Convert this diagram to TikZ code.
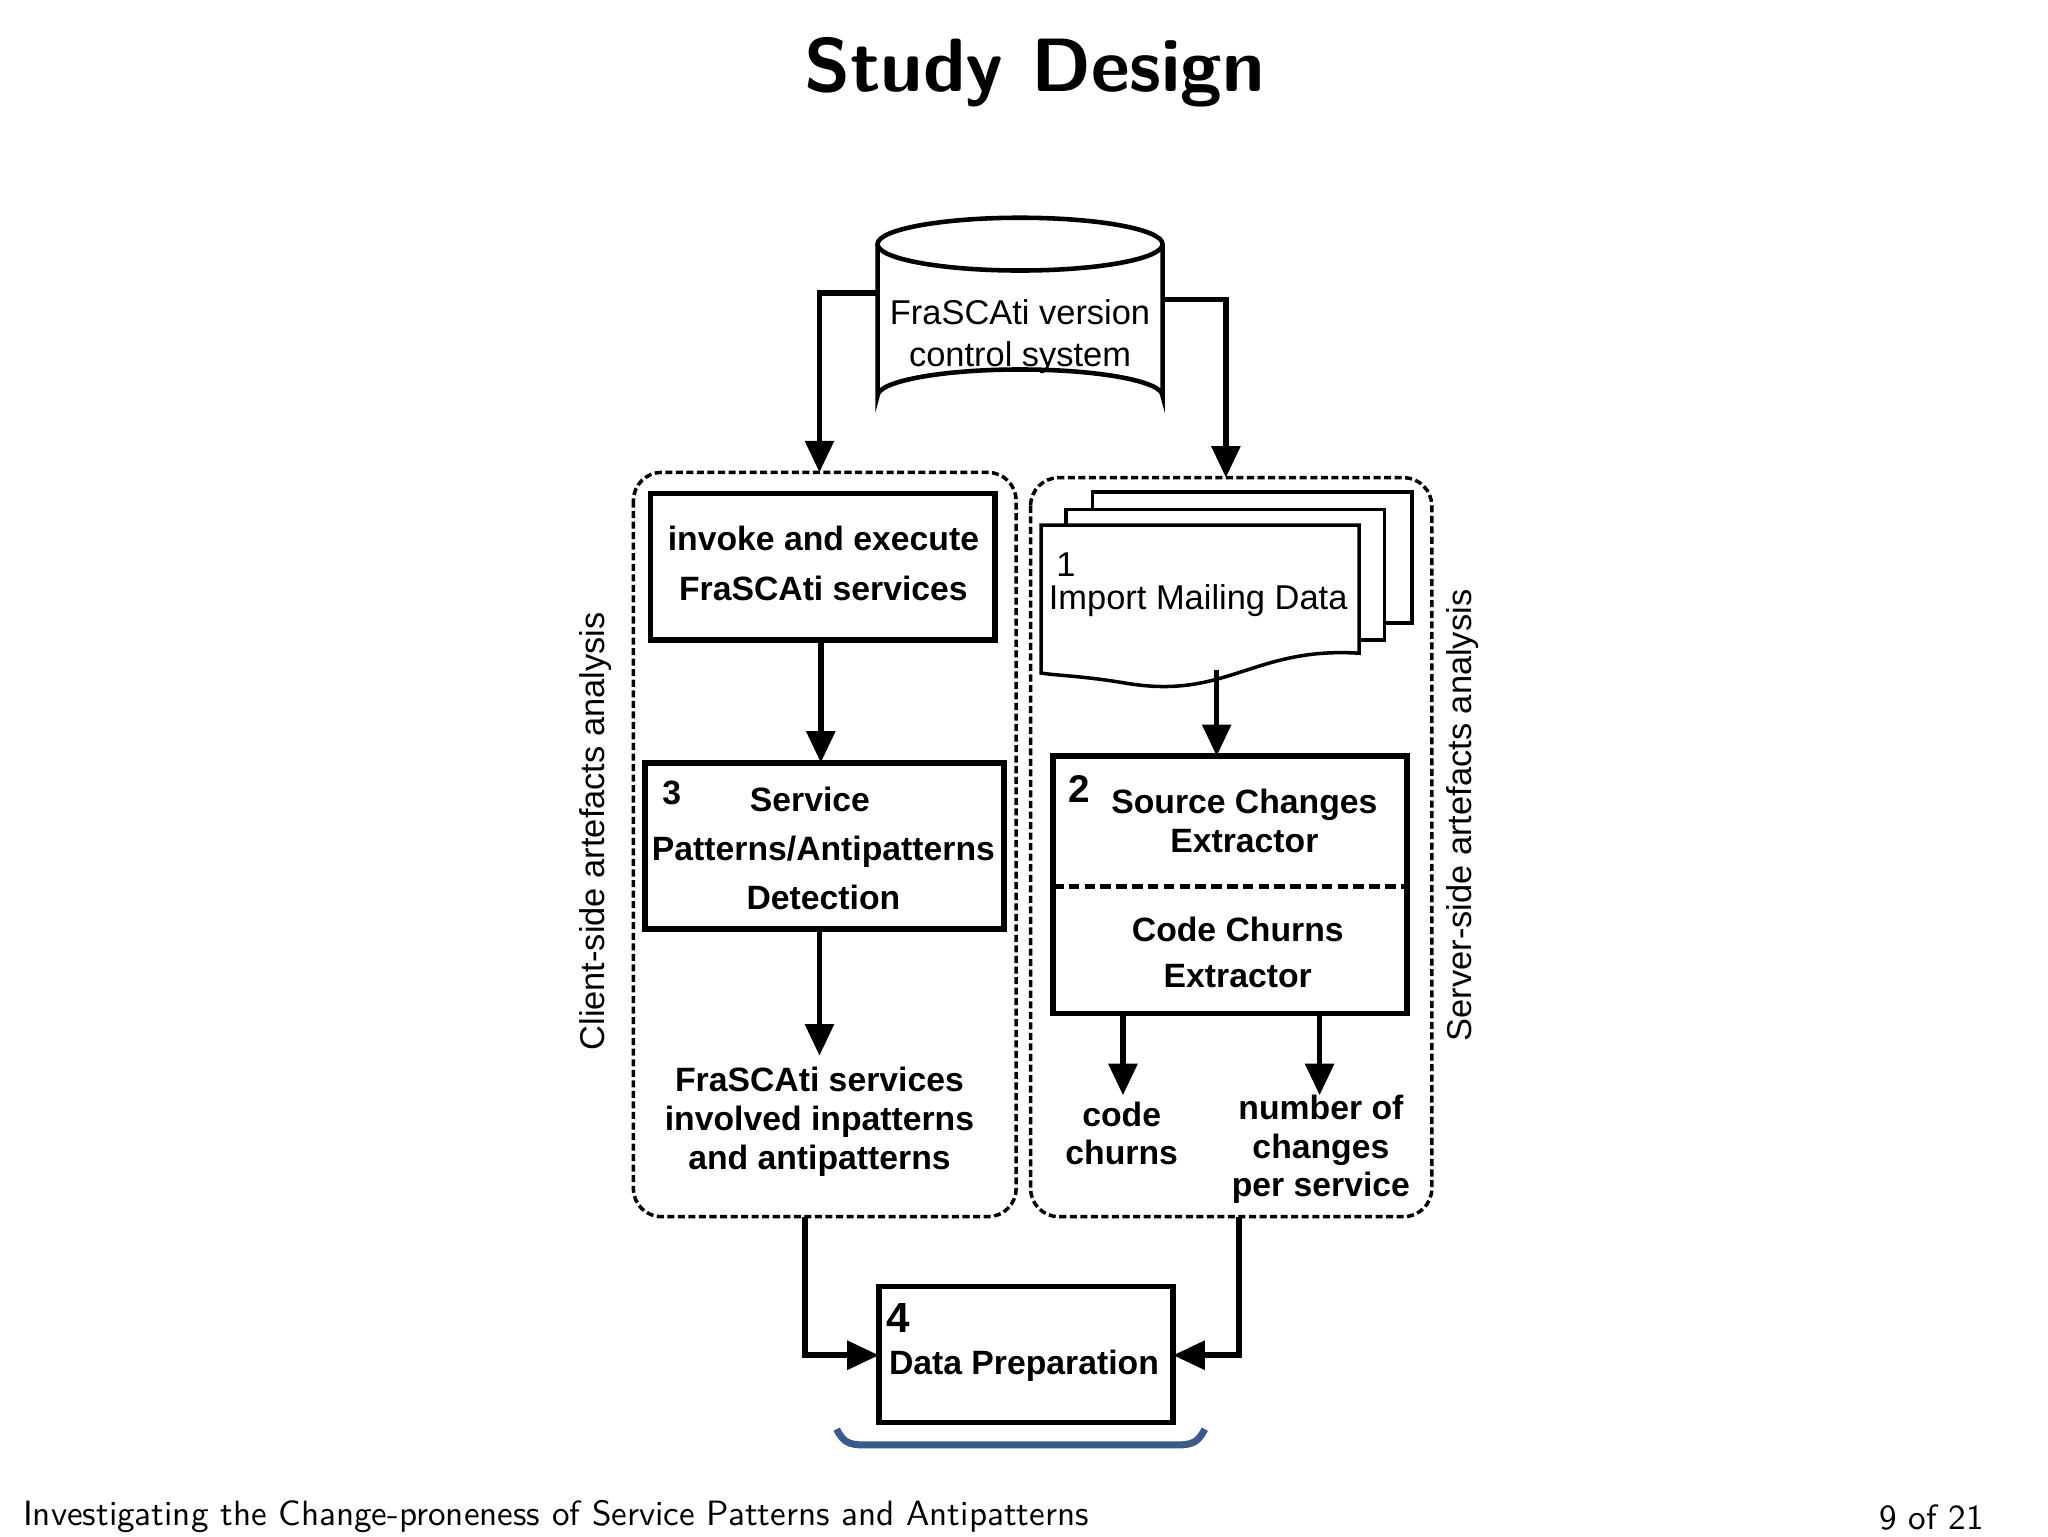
\documentclass[tikz,border=0pt]{standalone}
\usepackage{fontspec}
\newfontfamily\arial{Liberation Sans}
\usetikzlibrary{arrows.meta}
\begin{document}
\begin{tikzpicture}[x=0.013196cm,y=-0.013196cm,
  box/.style={draw,line width=1.6pt},
  arr/.style={line width=1.6pt,-{Triangle[length=9pt,width=8pt]}},
  dbox/.style={draw,line width=1pt,dash pattern=on 2pt off 1pt,rounded corners=8pt},
  bt/.style={font=\arial\bfseries\fontsize{9.6}{11}\selectfont,align=center,inner sep=0pt},
  nt/.style={font=\arial\fontsize{9.8}{12}\selectfont,align=center,inner sep=0pt}]
\useasboundingbox (0,0) rectangle (1552,1164);
% title
\node[font=\sffamily\bfseries\fontsize{21.5}{26}\selectfont] (title) at (784,55) {Study Design};
% cylinder
\draw[line width=1.3pt,fill=white] (665,185) -- (665,300) arc[start angle=180,end angle=360,x radius=108,y radius=20] -- (881,185);
\draw[line width=1.3pt] (773,185) ellipse[x radius=108,y radius=20];
\node[nt] (db) at (773,255) {FraSCAti version\\control system};
\coordinate (dbl) at (665,222); \coordinate (dbr) at (881,227);
% dashed groups
\draw[dbox] (480,358) rectangle (770,922);
\draw[dbox] (781,362) rectangle (1085,922);
\coordinate (gl) at (621,358); \coordinate (gr) at (929,362);
\draw[arr] (dbl) -- (621,222) -- (gl);
\draw[arr] (dbr) -- (929,227) -- (gr);
% left column
\draw[box] (493,374) rectangle (754,485);
\node[bt] (invt) at (624,427) {invoke and execute\\[3pt]FraSCAti services};
\coordinate (invb) at (622,485);
\draw[box] (489,578) rectangle (761,704);
\node[bt] at (509,601) {3};
\node[bt] (det) at (624,643) {\hspace*{-0.8em}Service\\[3pt]Patterns/Antipatterns\\[3pt]Detection};
\coordinate (dett) at (622,578); \coordinate (detb) at (621,704);
\draw[arr] (invb) -- (dett);
\node[bt] (out1) at (621,850) {FraSCAti services\\involved inpatterns\\and antipatterns};
\draw[arr] (detb) -- (621,800);
% documents
\draw[line width=1pt,fill=white] (828,373) rectangle (1070,472);
\draw[line width=1pt,fill=white] (808,386) rectangle (1049,485);
\draw[line width=1pt,fill=white] (789,398) -- (1030,398) -- (1030,495) .. controls (950,490) and (930,530) .. (855,518) .. controls (820,512) and (800,512) .. (789,510) -- cycle;
\node[nt,anchor=west] at (800,428) {1};
\node[nt] (imp) at (908,455) {Import Mailing Data};
\draw[arr] (922,508) -- (922,573);
\draw[box] (798,573) rectangle (1066,768);
\draw[line width=1.3pt,dash pattern=on 3pt off 1.5pt] (798,672) -- (1066,672);
\node[bt,font=\arial\bfseries\fontsize{11}{12}\selectfont] at (818,598) {2};
\node[bt] (src) at (943,622) {Source Changes\\Extractor};
\node[bt] (cc) at (938,722) {Code Churns\\[2pt]Extractor};
\draw[arr] (851,768) -- (851,830);
\draw[arr] (1000,768) -- (1000,830);
\node[bt] (o2) at (850,859) {code\\churns};
\node[bt] (o3) at (1001,871) {number of\\changes\\per service};
% rotated labels
\node[nt,rotate=90] at (451,630) {Client-side artefacts analysis};
\node[nt,rotate=90] at (1108,618) {Server-side artefacts analysis};
% data prep
\draw[box] (666,975) rectangle (889,1078);
\node[bt,font=\arial\bfseries\fontsize{12}{14}\selectfont] at (681,999) {4};
\node[bt] (dp) at (776,1035) {Data Preparation};
\draw[arr] (610,922) -- (610,1027) -- (666,1027);
\draw[arr] (939,922) -- (939,1027) -- (889,1027);
% bracket
\draw[line width=2pt,color={rgb,255:red,56;green,90;blue,140}] (634,1083) .. controls (640,1095) and (645,1095) .. (660,1095) -- (887,1095) .. controls (902,1095) and (907,1095) .. (913,1083);
% footer
\node[font=\sffamily\fontsize{10}{12}\selectfont,anchor=west,inner sep=0pt] (ft) at (17,1149) {Investigating the Change-proneness of Service Patterns and Antipatterns};
\node[font=\sffamily\fontsize{10}{12}\selectfont,anchor=east,inner sep=0pt] (pg) at (1504,1150) {9 of 21};
\end{tikzpicture}
\end{document}
